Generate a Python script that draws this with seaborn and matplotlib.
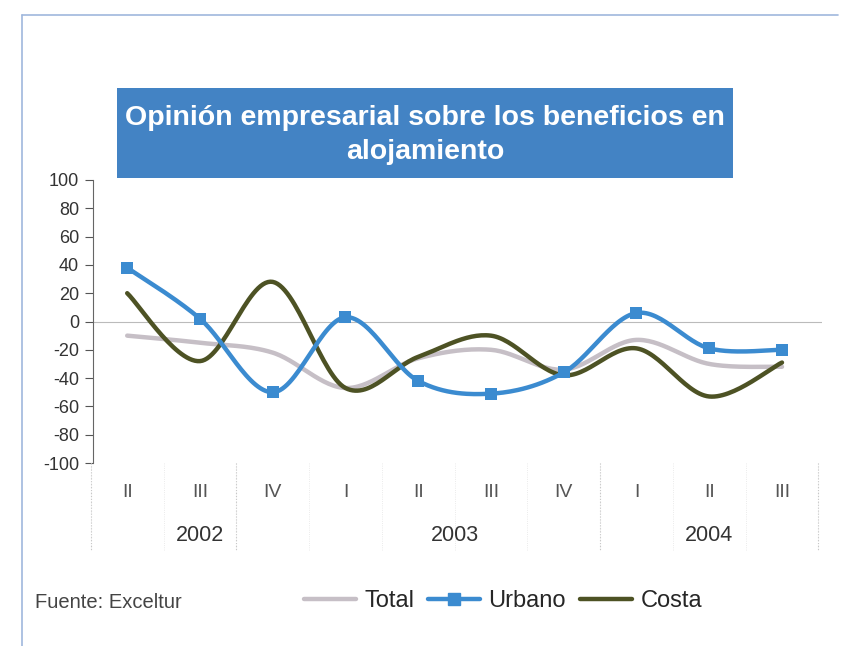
import numpy as np
import pandas as pd
import matplotlib
matplotlib.use("Agg")
import matplotlib.pyplot as plt
import seaborn as sns
from matplotlib.lines import Line2D
from matplotlib.patches import Rectangle

# data
quarters = ["II", "III", "IV", "I", "II", "III", "IV", "I", "II", "III"]
years = ["2002", "2003", "2004"]
year_centers = [1, 4.5, 8]
total = [-10, -15, -22, -47, -26, -20, -34, -13, -30, -32]
urbano = [38, 2, -50, 3, -42, -51, -36, 6, -19, -20]
costa = [20, -28, 28, -47, -25, -10, -38, -19, -53, -29]

C_TOTAL = "#c6bfc6"
C_URB = "#3b8bd0"
C_COSTA = "#4d5224"
C_BOX = "#4383c4"


def smooth(values, n=30):
    # Excel-style smoothed line (Catmull-Rom through the points)
    y = np.asarray(values, dtype=float)
    x = np.arange(len(y), dtype=float)
    xs, ys = [], []
    for i in range(len(y) - 1):
        p0 = (x[i - 1], y[i - 1]) if i > 0 else (x[i], y[i])
        p1 = (x[i], y[i])
        p2 = (x[i + 1], y[i + 1])
        p3 = (x[i + 2], y[i + 2]) if i + 2 < len(y) else (x[i + 1], y[i + 1])
        c1 = (p1[0] + (p2[0] - p0[0]) / 6, p1[1] + (p2[1] - p0[1]) / 6)
        c2 = (p2[0] - (p3[0] - p1[0]) / 6, p2[1] - (p3[1] - p1[1]) / 6)
        t = np.linspace(0, 1, n, endpoint=(i == len(y) - 2))
        for k in range(2):
            pts = (1 - t) ** 3 * p1[k] + 3 * (1 - t) ** 2 * t * c1[k] + 3 * (1 - t) * t ** 2 * c2[k] + t ** 3 * p2[k]
            (xs if k == 0 else ys).append(pts)
    return np.concatenate(xs), np.concatenate(ys)


sns.set_style("white")
plt.rcParams["font.family"] = ["Liberation Sans", "DejaVu Sans"]
plt.rcParams["axes.unicode_minus"] = False

fig = plt.figure(figsize=(8.51, 6.46), dpi=100)
ax = fig.add_axes([93 / 851, 1 - 463 / 646, (822 - 93) / 851, (463 - 180) / 646])

curves = []
for name, vals in [("Total", total), ("Costa", costa), ("Urbano", urbano)]:
    sx, sy = smooth(vals)
    curves.append(pd.DataFrame({"x": sx, "y": sy, "serie": name}))
df = pd.concat(curves, ignore_index=True)

sns.lineplot(data=df, x="x", y="y", hue="serie", sort=False, estimator=None,
             palette={"Total": C_TOTAL, "Urbano": C_URB, "Costa": C_COSTA},
             linewidth=3.2, legend=False, ax=ax)
sns.scatterplot(x=np.arange(len(urbano)), y=urbano, marker="s", s=70,
                color=C_URB, edgecolor=C_URB, linewidth=0, zorder=5, ax=ax)

ax.set_xlim(-0.47, 9.55)
ax.set_ylim(-100, 100)
ax.set_yticks(range(-100, 101, 20))
ax.set_xticks([])
ax.set_xlabel("")
ax.set_ylabel("")
ax.tick_params(axis="y", length=6, width=0.8, color="#555555", labelsize=13,
               labelcolor="#333333", direction="out", pad=4, left=True)
for s in ["top", "right", "bottom"]:
    ax.spines[s].set_visible(False)
ax.spines["left"].set_color("#666666")
ax.spines["left"].set_linewidth(0.8)
ax.axhline(0, color="#bbbbbb", linewidth=0.8, zorder=0)

# category labels below axis
for i, q in enumerate(quarters):
    ax.text(i, -121, q, ha="center", va="center", fontsize=14, color="#555555")
for c, yr in zip(year_centers, years):
    ax.text(c, -151, yr, ha="center", va="center", fontsize=15.5, color="#333333")
for xv in [-0.5 + k for k in range(11)]:
    ax.plot([xv, xv], [-100, -162], color="#e4e4e4", linewidth=0.6, linestyle=":",
            clip_on=False)
for xv in [-0.5, 1.5, 6.5, 9.5]:
    ax.plot([xv, xv], [-100, -162], color="#c8c8c8", linewidth=0.8, linestyle=":",
            clip_on=False)

# title box
fig.patches.append(Rectangle((117 / 851, 1 - 178 / 646), (733 - 117) / 851, (178 - 88) / 646,
                             transform=fig.transFigure, facecolor=C_BOX, edgecolor="none"))
fig.text(425 / 851, 1 - 135 / 646, "Opinión empresarial sobre los beneficios en\nalojamiento",
         ha="center", va="center", color="white", fontsize=20.5, fontweight="bold",
         linespacing=1.4)

# outer frame
fig.add_artist(Line2D([22 / 851, 22 / 851], [1 - 15 / 646, 0], transform=fig.transFigure,
                      color="#9fb8dd", linewidth=1.2))
fig.add_artist(Line2D([22 / 851, 838 / 851], [1 - 15 / 646, 1 - 15 / 646], transform=fig.transFigure,
                      color="#9fb8dd", linewidth=1.2))

fig.text(35 / 851, 1 - 602 / 646, "Fuente: Exceltur", ha="left", va="center",
         fontsize=14.5, color="#444444")

handles = [Line2D([], [], color=C_TOTAL, linewidth=3.2),
           Line2D([], [], color=C_URB, linewidth=3.2, marker="s", markersize=8),
           Line2D([], [], color=C_COSTA, linewidth=3.2)]
fig.legend(handles, ["Total", "Urbano", "Costa"], loc="center",
           bbox_to_anchor=(503 / 851, 1 - 601 / 646), ncol=3, frameon=False,
           fontsize=17, handlelength=2.2, handletextpad=0.35, columnspacing=0.6)

fig.savefig("out.png", dpi=100)
